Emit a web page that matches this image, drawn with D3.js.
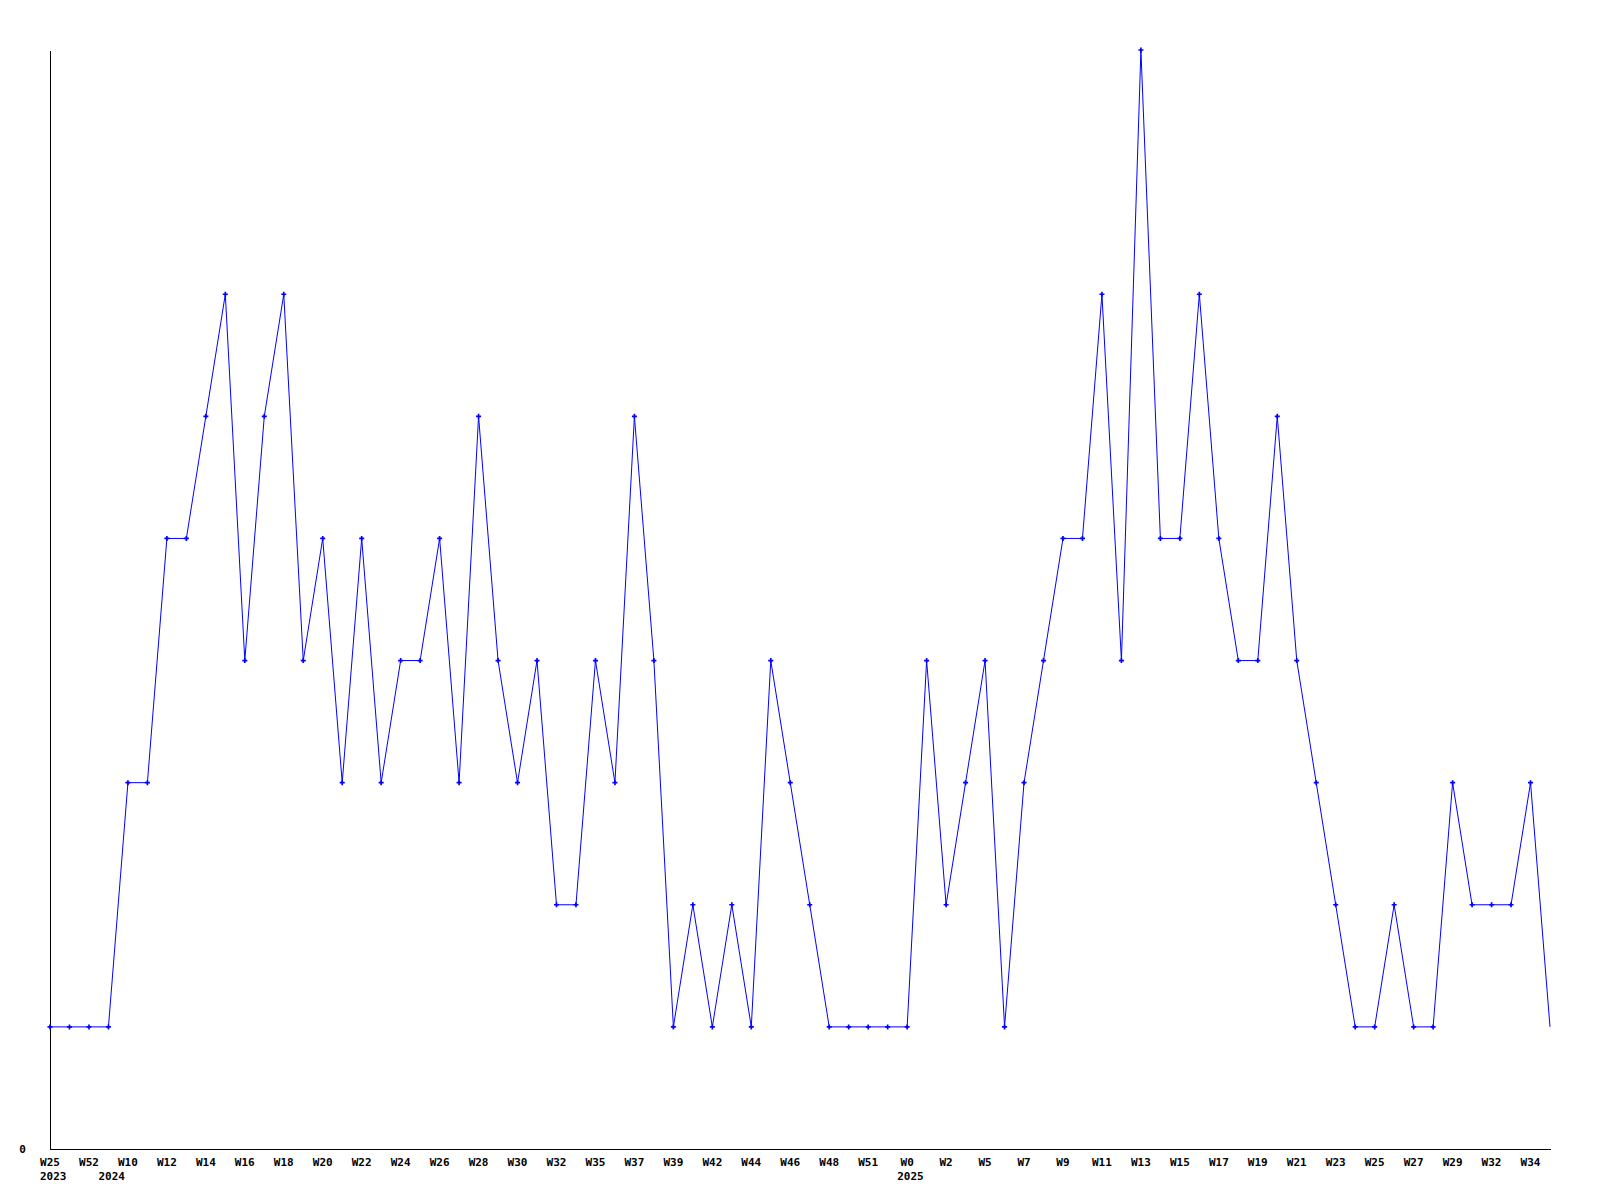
<!DOCTYPE html>
<html>
<head>
<meta charset="utf-8">
<script src="https://cdn.jsdelivr.net/npm/d3@7"></script>
<style>
  html, body { margin: 0; padding: 0; background: #ffffff; }
  svg { display: block; }
  text { font-family: "DejaVu Sans Mono", "Liberation Mono", monospace; font-weight: bold; font-size: 11px; fill: #000; }
</style>
</head>
<body>
<svg id="chart" width="1600" height="1200"></svg>
<script>
// Weekly values (78 points)
const values = [
  1, 1, 1, 1, 3, 3, 5, 5, 6, 7,
  4, 6, 7, 4, 5, 3, 5, 3, 4, 4,
  5, 3, 6, 4, 3, 4, 2, 2, 4, 3,
  6, 4, 1, 2, 1, 2, 1, 4, 3, 2,
  1, 1, 1, 1, 1, 4, 2, 3, 4, 1,
  3, 4, 5, 5, 7, 4, 9, 5, 5, 7,
  5, 4, 4, 6, 4, 3, 2, 1, 1, 2,
  1, 1, 3, 2, 2, 2, 3, 1
];
// Tick labels shown at every second point
const tickIndices = [0,2,4,6,8,10,12,14,16,18,20,22,24,26,28,30,32,34,36,38,40,42,44,46,48,50,52,54,56,58,60,62,64,66,68,70,72,74,76];
const tickLabels = ["W25","W52","W10","W12","W14","W16","W18","W20","W22","W24","W26","W28","W30","W32","W35","W37","W39","W42","W44","W46","W48","W51","W0","W2","W5","W7","W9","W11","W13","W15","W17","W19","W21","W23","W25","W27","W29","W32","W34"];
// Year labels
const yearIndices = [0, 3, 44];
const yearLabels = ["2023", "2024", "2025"];
const yMax = 9;
const yTickValues = [0];

const svg = d3.select("#chart");
const x = d3.scaleLinear().domain([0, values.length - 1]).range([50, 1550]);
const y = d3.scaleLinear().domain([0, yMax]).range([1149, 50]);

// Axes
const xAxis = d3.axisBottom(x).tickValues([]).tickSize(0).tickSizeOuter(0);
const gx = svg.append("g").attr("transform", `translate(0,${y(0)})`).call(xAxis);
gx.select(".domain").attr("stroke", "#000").attr("stroke-width", 1).attr("shape-rendering", "crispEdges");

const yAxis = d3.axisLeft(y).tickValues([]).tickSize(0).tickSizeOuter(0);
const gy = svg.append("g").attr("transform", `translate(${x(0)},0)`).call(yAxis);
gy.select(".domain").attr("stroke", "#000").attr("stroke-width", 1).attr("shape-rendering", "crispEdges");

// Y tick label "0"
svg.selectAll("text.ylab").data(yTickValues).enter().append("text")
  .attr("class", "ylab")
  .attr("x", 22.5)
  .attr("y", d => y(d) + 4)
  .attr("text-anchor", "middle")
  .text(d => d);

// X tick labels
svg.selectAll("text.xlab").data(tickIndices).enter().append("text")
  .attr("class", "xlab")
  .attr("x", d => x(d))
  .attr("y", 1166)
  .attr("text-anchor", "middle")
  .text((d, i) => tickLabels[i]);

// Year labels
svg.selectAll("text.year").data(yearIndices).enter().append("text")
  .attr("class", "year")
  .attr("x", d => x(d) - 10)
  .attr("y", 1180)
  .attr("text-anchor", "start")
  .text((d, i) => yearLabels[i]);

// Line
const line = d3.line().x((d, i) => x(i)).y(d => y(d));
svg.append("path")
  .datum(values)
  .attr("fill", "none")
  .attr("stroke", "#0000ff")
  .attr("stroke-width", 1)
  .attr("d", line);

// Markers (not on the last point)
const sym = d3.symbol().type(d3.symbolCross).size(14);
svg.selectAll("path.pt").data(values.slice(0, values.length - 1)).enter().append("path")
  .attr("class", "pt")
  .attr("transform", (d, i) => `translate(${x(i)},${y(d)})`)
  .attr("d", sym)
  .attr("fill", "#0000ff");
</script>
</body>
</html>
